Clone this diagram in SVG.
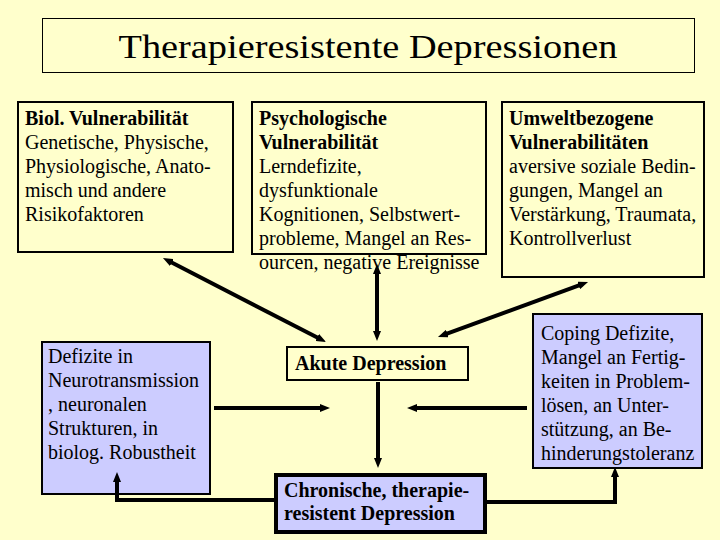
<svg xmlns="http://www.w3.org/2000/svg" width="720" height="540" viewBox="0 0 720 540">
<defs>
<style>
.box{fill:#FFFFCC;stroke:#000;stroke-width:2}
.blue{fill:#CCCCFF;stroke:#000;stroke-width:2}
.t{font-family:"Liberation Serif","Times New Roman",serif;font-size:20px;fill:#000}
.b{font-weight:bold}
.con{fill:none;stroke:#000;stroke-width:4;stroke-linejoin:miter}
</style>
<marker id="ah" markerUnits="userSpaceOnUse" markerWidth="10" markerHeight="8" viewBox="0 -4 10 8" refX="4" refY="0" orient="auto-start-reverse">
<path d="M0,-4 L10,0 L0,4 z" fill="#000"/>
</marker>
</defs>
<rect width="720" height="540" fill="#FFFFCC"/>
<g id="title">
<rect x="42.5" y="18.5" width="652" height="54" fill="#FFFFCC" stroke="#000" stroke-width="1"/>
<text x="368" y="58" text-anchor="middle" class="t" style="font-size:33px" textLength="499" lengthAdjust="spacingAndGlyphs">Therapieresistente Depressionen</text>
</g>
<g id="biol">
<rect class="box" x="18" y="102" width="215" height="150"/>
<text class="t" x="25" y="125"><tspan class="b">Biol. Vulnerabilität</tspan><tspan x="25" dy="24">Genetische, Physische,</tspan><tspan x="25" dy="24">Physiologische, Anato-</tspan><tspan x="25" dy="24">misch und andere</tspan><tspan x="25" dy="24">Risikofaktoren</tspan></text>
</g>
<g id="psych">
<rect class="box" x="252" y="102" width="234" height="152"/>
<text class="t" x="259" y="125"><tspan class="b">Psychologische</tspan><tspan x="259" dy="24" class="b">Vulnerabilität</tspan><tspan x="259" dy="24">Lerndefizite,</tspan><tspan x="259" dy="24">dysfunktionale</tspan><tspan x="259" dy="24">Kognitionen, Selbstwert-</tspan><tspan x="259" dy="24">probleme, Mangel an Res-</tspan><tspan x="259" dy="24">ourcen, negative Ereignisse</tspan></text>
</g>
<g id="umwelt">
<rect class="box" x="502" y="102" width="202" height="175"/>
<text class="t" x="509" y="125"><tspan class="b">Umweltbezogene</tspan><tspan x="509" dy="24" class="b">Vulnerabilitäten</tspan><tspan x="509" dy="24">aversive soziale Bedin-</tspan><tspan x="509" dy="24">gungen, Mangel an</tspan><tspan x="509" dy="24">Verstärkung, Traumata,</tspan><tspan x="509" dy="24">Kontrollverlust</tspan></text>
</g>
<g id="defizite">
<rect class="blue" x="42" y="342" width="168" height="152"/>
<text class="t" x="48" y="363"><tspan>Defizite in</tspan><tspan x="48" dy="24">Neurotransmission</tspan><tspan x="48" dy="24">, neuronalen</tspan><tspan x="48" dy="24">Strukturen, in</tspan><tspan x="48" dy="24">biolog. Robustheit</tspan></text>
</g>
<g id="akute">
<rect class="box" x="287" y="347" width="181" height="33"/>
<text class="t b" x="295" y="370">Akute Depression</text>
</g>
<g id="chronisch">
<rect class="blue" x="276" y="475" width="209" height="57" style="stroke-width:4"/>
<text class="t b" x="284" y="497"><tspan>Chronische, therapie-</tspan><tspan x="284" dy="23">resistent Depression</tspan></text>
</g>
<g id="coping">
<rect class="blue" x="533" y="314" width="169" height="154"/>
<text class="t" x="541" y="340"><tspan>Coping Defizite,</tspan><tspan x="541" dy="24">Mangel an Fertig-</tspan><tspan x="541" dy="24">keiten in Problem-</tspan><tspan x="541" dy="24">lösen, an Unter-</tspan><tspan x="541" dy="24">stützung, an Be-</tspan><tspan x="541" dy="24">hinderungstoleranz</tspan></text>
</g>
<g id="connectors" class="con">
<path class="con" d="M168.3,260.7 L320.7,339.3" marker-start="url(#ah)" marker-end="url(#ah)"/>
<path class="con" d="M377,270 L377,335" marker-start="url(#ah)" marker-end="url(#ah)"/>
<path class="con" d="M582.4,284.1 L443.6,334.9" marker-start="url(#ah)" marker-end="url(#ah)"/>
<path class="con" d="M214,408 L324,408" marker-end="url(#ah)"/>
<path class="con" d="M527,408 L413,408" marker-end="url(#ah)"/>
<path class="con" d="M378,382 L378,462" marker-end="url(#ah)"/>
<path class="con" d="M274,500 L117,500 L117,478" marker-end="url(#ah)"/>
<path class="con" d="M487,502 L615,502 L615,473" marker-end="url(#ah)"/>
</g>
</svg>
